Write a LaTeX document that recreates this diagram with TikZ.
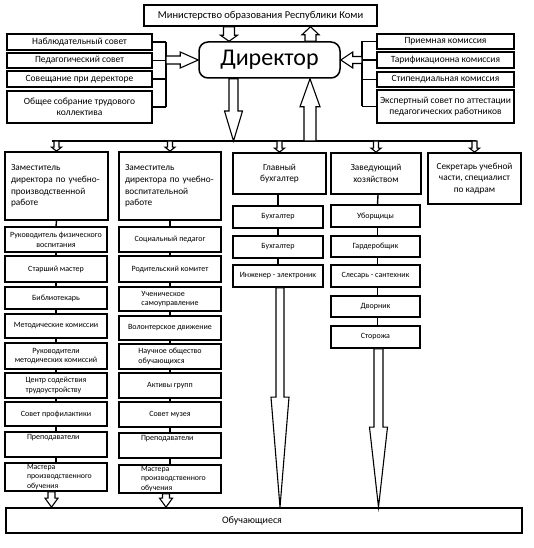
\documentclass[tikz,border=0pt]{standalone}
\usepackage{fontspec}
\setmainfont{Carlito}
\usetikzlibrary{calc}
\tikzset{
  box/.style={draw, line width=1.5pt, inner sep=1pt, align=center, font=\fontsize{9.5}{11}\selectfont},
  hdr/.style={draw, line width=1.7pt, inner sep=1pt, align=center, font=\fontsize{9.3}{11.7}\selectfont},
  hdrl/.style={hdr, align=left, inner xsep=6pt},
  sub/.style={draw, line width=1.6pt, inner sep=1pt, align=center, font=\fontsize{8}{9.8}\selectfont},
  subs/.style={sub, font=\fontsize{8}{9.5}\selectfont},
  subl/.style={sub, align=left},
  blk/.style={draw, line width=1.1pt, fill=white, line join=miter},
  conn/.style={line width=1.4pt},
}
\newcommand{\blockar}[5]{%
  \coordinate (ba-t) at (#1);
  \coordinate (ba-h) at (#2);
  \coordinate (ba-b) at ($(ba-h)!#5pt!(ba-t)$);
  \draw[blk] ($(ba-t)!#3pt!90:(ba-h)$) -- ($(ba-b)!#3pt!90:(ba-h)$) -- ($(ba-b)!#4pt!90:(ba-h)$) -- (ba-h) -- ($(ba-b)!#4pt!-90:(ba-h)$) -- ($(ba-b)!#3pt!-90:(ba-h)$) -- ($(ba-t)!#3pt!-90:(ba-h)$) -- cycle;
}
\begin{document}
\begin{tikzpicture}[x=1pt, y=-1pt]
\useasboundingbox (0,0) rectangle (534,548);
\fill[white] (0,0) rectangle (534,548);

% top
\node[box, minimum width=233pt, minimum height=21pt, font=\fontsize{10.5}{12}\selectfont] (min) at (260.5,15.5) {Министерство образования Республики Коми};
\node[draw, line width=1.5pt, rounded corners=9pt, minimum width=141pt, minimum height=36pt, inner sep=0pt, font=\fontsize{24}{27}\selectfont] (dir) at (269.5,60) {Директор};

% left boxes
\node[box, minimum width=145pt, minimum height=16pt] (L1) at (79.5,42) {Наблюдательный совет};
\node[box, minimum width=145pt, minimum height=15pt] (L2) at (79.5,60.5) {Педагогический совет};
\node[box, minimum width=145pt, minimum height=16pt] (L3) at (79.5,79) {Совещание при деректоре};
\node[box, minimum width=145pt, minimum height=32pt] (L4) at (79.5,107) {Общее собрание трудового\\коллектива};

% right boxes
\node[box, minimum width=137pt, minimum height=15pt] (R1) at (445.5,41.5) {Приемная комиссия};
\node[box, minimum width=137pt, minimum height=16pt] (R2) at (445.5,60) {Тарификационна комиссия};
\node[box, minimum width=137pt, minimum height=15pt] (R3) at (445.5,79.5) {Стипендиальная комиссия};
\node[box, minimum width=137pt, minimum height=33pt] (R4) at (445.5,106.5) {Экспертный совет по аттестации\\педагогических работников};

% brackets
\coordinate (lb) at (166,0);
\coordinate (rb) at (362,0);
\foreach \n in {L1,L2,L3,L4} \draw[conn] (\n.east) -- (\n.east -| lb);
\draw[conn] (L1.east -| lb) -- (L4.east -| lb);
\foreach \n in {R1,R2,R3,R4} \draw[conn] (\n.west) -- (\n.west -| rb);
\draw[conn] (R1.west -| rb) -- (R4.west -| rb);
\blockar{lb |- dir.west}{dir.west}{4}{8}{18}
\blockar{rb |- dir.east}{dir.east}{3.5}{8}{12}

% ministry arrows
\blockar{229,0 |- min.south}{229,0 |- dir.north}{5.5}{8.5}{6}
\blockar{310.5,0 |- dir.north}{310.5,0 |- min.south}{5.5}{8.5}{8}

% bus
\coordinate (busl) at (52,141);
\coordinate (busr) at (476,141);
\draw[conn] (busl) -- (busr);
\blockar{233.5,0 |- dir.south}{233.5,0 |- busl}{4.5}{9}{30}
\blockar{310,0 |- busl}{310,0 |- dir.south}{6}{10}{28}

% column headers
\node[hdrl, text width=91pt, minimum height=68pt] (H1) at (56.5,186) {Заместитель\\директора по учебно-\\производственной\\работе};
\node[hdrl, text width=90pt, minimum height=68pt] (H2) at (170,186) {Заместитель\\директора по учебно-\\воспитательной\\работе};
\node[hdr, minimum width=93pt, minimum height=41pt] (H3) at (279.5,173.5) {Главный\\бухгалтер};
\node[hdr, minimum width=90pt, minimum height=41pt] (H4) at (376,173.5) {Заведующий\\хозяйством};
\node[hdr, minimum width=93pt, minimum height=51pt] (H5) at (474.5,178.5) {Секретарь учебной\\части, специалист\\по кадрам};
\foreach \n in {H1,H2,H3,H4,H5} \blockar{\n.north |- busl}{\n.north}{2.5}{5}{4};

% columns 1 and 2
\begin{scope}[every node/.append style={minimum width=102pt}]
\node[sub, minimum height=25pt] (a1) at (56,239.5) {Руководитель физического\\воспитания};
\node[sub, minimum height=26pt] (a2) at (56,269) {Старший мастер};
\node[sub, minimum height=22pt] (a3) at (56,298) {Библиотекарь};
\node[sub, minimum height=24pt] (a4) at (56,326) {Методические комиссии};
\node[sub, minimum height=26pt] (a5) at (56,356) {Руководители\\методических комиссий};
\node[subl, minimum height=25pt] (a6) at (56,385.5) {Центр содействия\\трудоустройству};
\node[sub, minimum height=24pt] (a7) at (56,414) {Совет профилактики};
\node[subl, minimum height=25pt, text width=79pt, inner xsep=0pt] (a8) at (56,444.5) {\hspace*{10.5pt}Преподаватели\\[6pt]~};
\node[subl, minimum height=28pt, text width=79pt, inner xsep=0pt, font=\fontsize{7.8}{9.8}\selectfont] (a9) at (56,477) {\hspace*{10.5pt}Мастера\\\hspace*{10.5pt}производственного\\\hspace*{10.5pt}обучения};
\node[sub, minimum height=25pt] (b1) at (170,239.5) {Социальный педагог};
\node[sub, minimum height=26pt] (b2) at (170,269) {Родительский комитет};
\node[subl, minimum height=24pt] (b3) at (170,299) {Ученическое\\самоуправление};
\node[sub, minimum height=24pt] (b4) at (170,328) {Волонтерское движение};
\node[subl, minimum height=25pt] (b5) at (170,356.5) {Научное общество\\обучающихся};
\node[sub, minimum height=25pt] (b6) at (170,385.5) {Активы групп};
\node[sub, minimum height=25pt] (b7) at (170,414.5) {Совет музея};
\node[subl, minimum height=25pt, text width=79pt, inner xsep=0pt] (b8) at (170,445.5) {\hspace*{10.5pt}Преподаватели\\[6pt]~};
\node[subl, minimum height=28pt, text width=79pt, inner xsep=0pt, font=\fontsize{7.8}{9.8}\selectfont] (b9) at (170,479) {\hspace*{10.5pt}Мастера\\\hspace*{10.5pt}производственного\\\hspace*{10.5pt}обучения};
\end{scope}
% column 3
\node[subs, minimum width=90pt, minimum height=22pt] (c1) at (278,217) {Бухгалтер};
\node[subs, minimum width=90pt, minimum height=22pt] (c2) at (278,247) {Бухгалтер};
\node[subs, minimum width=90pt, minimum height=22pt] (c3) at (278,276) {Инженер - электроник};
% column 4
\node[subs, minimum width=89pt, minimum height=22pt] (d1) at (375.5,216) {Уборщицы};
\node[subs, minimum width=89pt, minimum height=21pt] (d2) at (375.5,246.5) {Гардеробщик};
\node[subs, minimum width=89pt, minimum height=22pt] (d3) at (375.5,276) {Слесарь - сантехник};
\node[subs, minimum width=89pt, minimum height=21pt] (d4) at (375.5,306.5) {Дворник};
\node[subs, minimum width=89pt, minimum height=22pt] (d5) at (375.5,337) {Сторожа};

% vertical links
\draw[conn] (H1.south) -- (a1.north);
\foreach \p/\q in {a1/a2,a2/a3,a3/a4,a4/a5,a5/a6,a6/a7,a7/a8,a8/a9} \draw[conn] (\p.south) -- (\q.north);
\draw[conn] (H2.south) -- (b1.north);
\foreach \p/\q in {b1/b2,b2/b3,b3/b4,b4/b5,b5/b6,b6/b7,b7/b8,b8/b9} \draw[conn] (\p.south) -- (\q.north);
\draw[conn] (H3.south -| c1.north) -- (c1.north);
\foreach \p/\q in {c1/c2,c2/c3} \draw[conn] (\p.south) -- (\q.north);
\draw[conn] ($(H4.south)+(2,0)$) -- ($(d1.north)+(2,0)$);
\foreach \p/\q in {d1/d2,d2/d3,d3/d4,d4/d5} \draw[conn] ($(\p.south)+(2,0)$) -- ($(\q.north)+(2,0)$);

% students
\node[draw, line width=1.7pt, minimum width=516pt, minimum height=25pt, inner sep=0pt, font=\fontsize{10}{12}\selectfont] (stud) at (264,520.5) {\makebox[510pt][l]{\hspace{213pt}Обучающиеся}};

\coordinate (c3o) at ($(c3.south)+(2,0)$);
\coordinate (d5o) at ($(d5.south)+(3,0)$);
\coordinate (a9o) at ($(a9.south)+(-4.5,0)$);
\coordinate (b9o) at ($(b9.south)+(-4,0)$);
\blockar{c3o}{c3o |- stud.north}{4}{9}{110}
\blockar{d5o}{d5o |- stud.north}{4.5}{9}{80}
\blockar{a9o}{a9o |- stud.north}{3.5}{6.5}{9}
\blockar{b9o}{b9o |- stud.north}{3.5}{6.5}{9}
\end{tikzpicture}
\end{document}
